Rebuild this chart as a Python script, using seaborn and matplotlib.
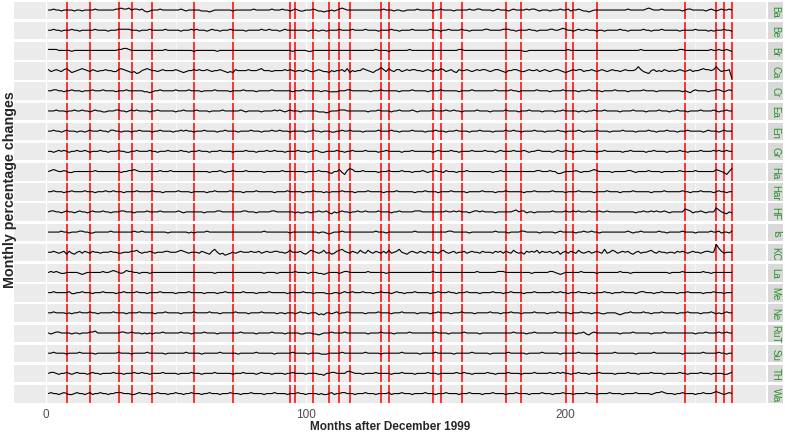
import numpy as np
import pandas as pd
import matplotlib
matplotlib.use("Agg")
import matplotlib.pyplot as plt
import seaborn as sns

# monthly percentage changes, one string per house price series (months 1..264)
ba = """
0 0 1 0 0 -1 0 0 0 0 -1 0 0 -1 0 0 0 0 1 0 0 0 0 0
0 0 1 1 2 1 1 2 0 1 1 0 1 -1 -2 -1 0 0 0 1 0 0 0 0
0 0 0 1 0 -1 0 0 0 0 0 -1 -1 -1 -2 -1 0 0 0 0 0 0 0 -1
0 0 0 0 0 0 0 1 0 0 0 0 0 0 1 0 0 0 1 0 0 -1 0 1
0 -1 -1 0 0 0 1 0 -1 -1 -2 -1 -1 0 -1 0 1 2 1 0 0 0 0 0
0 0 0 0 0 0 0 0 0 1 0 0 0 -1 0 0 -1 -1 0 0 0 0 1 0
0 0 0 0 -1 0 0 1 0 0 0 0 -1 0 0 0 0 0 1 0 0 1 1 0
0 0 0 -1 0 1 0 0 0 -1 0 1 0 0 0 0 1 0 1 1 0 -1 0 0
0 -1 0 0 0 1 0 0 1 -1 0 0 1 0 -1 -1 -2 -1 0 0 0 0 0 0
0 0 0 0 0 0 0 1 0 0 0 0 0 0 1 2 1 0 0 0 1 0 0 0
0 0 0 0 -1 0 1 1 0 0 0 0 0 -1 0 1 0 -1 0 1 0 0 1 0
"""
be = """
0 0 1 0 0 -1 0 0 0 1 0 0 -1 0 0 0 0 0 1 0 0 0 0 -1
0 0 0 1 1 1 1 1 0 0 0 -1 0 0 0 1 0 0 0 0 0 1 0 0
0 0 0 -1 0 0 0 1 0 1 0 0 0 -1 0 1 0 0 -1 0 0 0 1 0
0 0 0 0 -1 0 0 0 0 0 1 0 0 1 0 0 0 -1 0 1 0 0 0 0
0 0 0 0 -1 0 0 0 -1 0 0 -1 0 0 0 0 1 0 0 0 0 1 0 0
0 0 1 0 0 0 0 -1 0 0 0 0 1 0 0 -1 0 0 0 0 1 0 0 0
0 0 0 1 0 0 0 -1 0 0 1 0 0 0 0 1 0 0 -1 0 0 0 0 0
1 1 0 0 0 0 0 1 1 1 0 0 -1 0 0 0 0 1 0 0 -1 0 0 0
0 1 1 0 0 1 2 1 0 0 -1 0 1 0 0 1 0 0 0 -1 0 0 -1 0
0 0 0 0 1 0 0 -1 0 0 0 0 0 1 0 0 -1 0 0 0 1 0 0 0
0 0 0 -1 0 0 0 0 0 1 0 0 0 0 -1 0 -1 0 0 0 1 0 0 -1
"""
br = """
1 1 1 1 0 0 0 0 0 -1 0 0 0 0 0 0 0 0 0 0 0 0 0 0
0 0 0 1 1 2 2 1 0 0 0 0 0 0 0 0 0 0 0 0 0 1 0 0
0 0 0 0 0 0 0 0 -1 0 0 0 0 0 0 0 0 -1 0 0 0 0 0 0
0 0 0 0 0 0 0 0 0 0 0 0 0 0 0 0 0 0 0 0 0 0 -1 0
0 0 0 0 -1 -1 0 0 0 0 0 0 0 0 0 0 0 0 0 0 0 0 0 0
0 0 0 0 0 0 1 0 0 0 0 -1 0 0 0 0 0 0 0 1 0 0 0 0
0 0 0 0 0 0 0 0 0 0 0 0 0 0 1 1 0 0 0 0 0 0 0 0
0 0 0 0 0 0 0 0 0 0 0 0 0 0 0 -1 -1 0 0 0 0 0 0 0
0 0 0 0 0 0 0 0 1 0 0 0 0 0 0 0 0 0 0 0 0 0 0 0
0 0 0 0 0 0 0 0 0 0 0 0 1 0 0 0 0 0 0 0 0 0 0 0
0 0 0 1 1 0 0 0 0 0 0 0 0 0 0 1 0 0 1 0 0 1 0 -1
"""
ca = """
1 -1 0 1 0 -1 1 2 0 -2 -1 0 1 2 1 0 -1 1 0 -1 0 0 1 0
0 -1 -1 1 2 1 0 -1 -2 -1 -3 -2 0 1 2 1 0 0 -1 0 1 0 0 0
0 1 0 -1 -2 -1 0 0 1 0 1 0 0 1 0 -1 0 0 1 0 -1 -2 -1 -2
1 0 0 0 0 1 0 0 0 1 2 0 0 0 -1 0 0 0 0 1 0 1 0 -1
0 0 -1 1 0 -1 -1 0 1 0 -1 -1 -2 0 -1 0 0 1 -1 2 -2 0 -1 0
0 2 1 0 -1 -2 0 1 3 1 -1 2 0 -1 1 1 -1 0 1 0 1 1 0 0
-1 0 1 0 -1 1 0 2 1 -1 0 1 -1 -2 1 0 0 1 0 -1 0 1 0 1
1 0 -1 0 1 1 0 -1 -2 0 0 1 1 0 -1 -1 0 1 0 0 1 -1 0 1
0 -1 0 1 1 0 -1 -2 -1 0 1 0 1 1 -1 0 0 1 0 -1 0 1 0 -1
0 1 0 0 -1 0 1 0 0 0 1 4 1 -1 -2 -3 0 1 -1 0 -1 1 0 -1
0 -1 0 1 0 -1 0 1 -1 0 0 1 2 1 1 0 1 4 1 -1 0 0 1 -8
"""
cr = """
0 0 1 1 0 0 -1 0 0 1 0 0 0 -1 0 0 0 1 0 0 0 1 0 0
0 0 -1 0 0 0 1 0 0 0 0 0 0 -1 -1 -2 -1 0 0 1 0 0 0 0
0 1 0 0 0 0 1 0 0 0 0 -1 0 0 0 0 1 0 0 0 0 0 -1 0
0 0 0 1 0 0 0 0 -1 0 0 0 0 0 1 0 0 0 0 0 0 0 -1 0
0 0 1 0 0 0 0 0 0 -1 0 0 -1 -1 -1 -1 0 0 0 1 1 0 0 0
0 0 0 0 -1 0 0 0 1 0 0 0 0 0 0 -1 0 0 0 0 1 0 0 0
0 0 -1 0 0 0 0 1 0 0 0 0 0 0 -1 0 0 0 0 1 0 0 0 0
0 0 0 0 1 0 0 0 0 0 1 0 0 -1 0 0 0 0 0 0 1 0 0 0
0 -1 0 0 0 0 1 0 0 0 0 0 -1 0 0 0 1 0 0 0 0 -1 0 0
0 0 1 0 0 0 0 -1 0 0 0 0 0 1 0 0 0 0 -1 0 0 0 0 0
0 0 0 0 -1 0 -1 -2 0 1 0 0 0 0 -1 0 0 1 1 0 -1 0 1 0
"""
ea = """
0 0 0 1 0 0 0 -1 0 0 1 0 0 1 0 0 -1 0 1 0 0 -1 -1 0
0 0 1 1 0 0 -1 0 1 0 1 0 0 0 0 -1 0 0 1 0 0 0 0 0
0 -1 0 0 1 0 0 0 0 1 0 0 0 0 -1 0 0 0 0 1 0 0 0 0
0 0 1 0 -1 0 0 0 0 0 -1 0 0 0 0 1 0 1 0 -1 0 1 0 0
0 -1 0 0 0 0 0 0 -1 -1 -1 -2 -1 0 0 0 1 1 1 0 0 0 0 0
0 0 0 -1 0 0 0 1 0 0 0 0 -1 0 0 1 0 0 0 0 1 0 -1 0
0 0 0 0 1 0 0 0 0 1 0 0 1 0 0 -1 0 0 0 0 0 1 0 0
0 0 -1 0 0 0 0 0 1 0 0 0 0 -1 0 0 0 1 0 0 0 0 -1 0
0 0 0 -1 0 0 1 0 0 0 0 0 -1 0 0 -1 0 0 1 0 0 0 1 0
0 0 0 0 -1 0 0 0 0 1 0 0 0 0 -1 0 0 0 0 1 0 0 0 -1
0 0 1 0 0 0 -1 0 0 0 0 1 0 0 0 0 1 0 -1 0 0 1 0 0
"""
en = """
0 0 1 0 0 -1 0 1 0 0 0 -1 0 0 -1 0 1 0 0 0 1 0 0 -1
1 1 0 0 -1 0 0 0 -1 0 0 1 0 0 0 0 -1 0 0 1 0 0 0 0
-1 0 0 1 0 1 0 0 -1 0 0 0 1 0 0 0 0 -1 0 0 1 0 0 0
0 -1 0 0 0 0 1 0 0 0 -1 0 0 0 1 0 0 1 0 0 0 -1 0 0
0 0 0 -1 0 0 1 0 0 -1 0 0 0 -1 -1 0 0 1 0 0 1 0 0 0
0 -1 0 0 0 0 0 1 0 0 0 0 1 0 0 -1 0 0 0 0 1 0 0 0
0 -1 0 0 0 1 0 0 0 -1 0 0 0 1 0 0 0 0 -1 0 0 0 1 0
0 0 0 -1 0 0 0 0 1 0 0 1 0 0 -1 0 0 0 0 1 0 0 0 -1
0 0 0 0 1 0 0 -1 0 0 0 0 1 0 -1 0 0 0 0 1 0 0 0 0
-1 0 0 0 0 1 0 0 0 0 -1 0 0 0 0 1 0 0 -1 0 0 0 1 0
0 0 -1 0 0 0 1 0 0 0 0 0 -1 0 1 0 0 0 -1 0 1 0 0 0
"""
gr = """
0 0 -1 0 1 0 1 0 -1 0 0 1 0 0 1 0 -1 0 0 0 1 0 0 -1
0 0 0 1 0 0 -1 -1 0 0 1 0 0 0 0 1 0 0 -1 0 0 0 1 0
0 0 0 1 0 0 -1 0 0 0 1 0 0 0 -1 0 0 0 1 0 0 0 0 -1
0 0 0 0 1 0 0 0 -1 0 0 0 1 0 0 1 0 0 0 -1 0 0 0 0
1 0 0 0 -1 0 0 1 0 -1 -1 0 0 0 0 1 0 0 -1 0 0 1 0 0
0 0 1 0 0 0 0 -1 0 0 1 0 0 0 0 0 -1 0 0 0 1 0 0 0
0 0 0 0 -1 0 1 0 0 0 0 1 0 0 -1 0 0 0 0 1 0 0 0 0
1 0 0 0 -1 0 1 0 0 0 0 1 0 0 0 1 0 -1 0 0 1 1 0 0
0 0 -1 0 1 0 0 1 0 0 -1 0 0 0 1 0 0 0 0 -1 0 0 1 0
0 0 0 0 0 -1 0 0 1 0 0 0 0 0 -1 0 0 1 0 0 0 0 -1 0
0 0 0 1 0 0 -1 0 0 0 0 1 0 0 0 0 1 0 1 0 0 1 0 0
"""
ha = """
0 1 2 1 0 0 1 0 -1 -1 0 0 0 0 0 0 0 0 1 0 0 0 0 0
0 0 0 0 -1 0 0 1 1 2 1 0 0 0 0 0 0 0 0 1 0 0 0 1
0 0 0 0 0 0 0 0 0 0 0 0 0 0 -1 0 0 0 1 0 -1 0 0 1
0 0 0 0 1 0 0 0 0 0 0 -1 0 0 0 0 0 0 1 0 0 0 0 0
0 0 0 -1 0 0 0 0 1 0 0 0 -1 -2 0 0 2 -1 -3 1 3 2 0 0
0 1 0 0 0 0 0 -1 0 0 0 1 0 0 0 0 1 0 0 0 -1 0 0 0
1 0 -1 0 0 1 0 0 -1 1 0 0 0 -1 0 0 0 1 0 0 0 0 0 0
0 0 0 -1 0 0 1 0 0 0 0 0 0 0 0 0 0 0 0 0 1 1 0 0
0 1 0 0 -2 -2 -1 0 0 0 0 1 0 -1 0 0 0 1 2 1 0 0 0 0
0 -1 0 0 0 0 0 1 1 0 -1 0 0 0 0 1 0 0 0 0 -1 0 0 0
0 0 0 1 0 0 0 0 0 1 0 0 0 0 0 0 0 2 1 0 -1 -3 0 3
"""
har = """
0 0 1 0 0 0 -1 0 0 1 0 0 0 0 1 0 0 0 -1 0 0 0 1 0
0 1 0 0 0 -1 0 0 0 0 1 0 0 0 0 0 1 0 0 0 -1 0 0 0
0 0 1 0 0 0 0 -1 0 0 0 0 0 -1 0 0 1 0 0 0 0 0 1 0
0 0 0 -1 0 0 0 0 1 0 0 0 0 0 0 -1 0 0 0 0 1 0 0 0
0 0 -1 0 0 0 1 0 0 0 -1 0 -1 0 0 0 0 1 0 0 0 0 -1 0
0 0 0 1 0 0 0 0 0 -1 0 0 0 0 1 0 0 0 0 0 0 -1 0 0
0 1 0 0 0 0 -1 0 0 0 0 1 0 0 0 0 0 -1 0 0 0 0 0 1
0 0 0 0 -1 0 0 0 1 0 0 0 0 0 0 -1 0 0 0 1 0 0 0 0
0 0 1 0 0 0 0 -1 0 0 0 0 1 0 0 0 0 0 -1 0 0 0 0 1
0 0 0 0 -1 0 0 0 0 1 0 0 0 0 0 0 -1 0 0 0 0 1 0 0
0 0 0 0 1 0 0 -1 0 0 0 1 0 0 0 0 -1 0 1 0 0 -1 0 0
"""
hf = """
0 1 1 0 0 -1 0 1 0 0 -1 0 1 0 0 -1 0 1 0 0 0 1 0 0
-1 0 0 0 1 1 0 0 0 -1 0 0 0 0 1 0 0 0 0 1 0 0 0 0
0 0 1 0 -1 0 0 0 0 0 0 0 -1 0 0 0 0 1 1 0 0 0 0 0
0 0 0 1 1 0 0 0 -1 0 0 0 0 0 1 1 0 0 0 0 0 0 0 -1
0 -1 -1 0 0 -1 0 0 1 0 0 1 -1 -2 0 -1 0 1 0 0 -1 0 0 1
0 0 1 0 0 0 0 1 0 0 0 0 -1 0 0 1 0 0 0 0 0 1 1 1
0 0 0 0 0 0 0 0 0 1 0 0 1 0 1 0 0 0 -1 0 1 1 0 1
0 0 0 0 -1 0 0 0 0 0 0 1 2 0 1 1 -1 0 0 -1 0 0 0 0
0 0 1 0 0 0 0 1 0 0 1 0 1 0 0 0 1 0 0 0 1 0 0 1
0 0 0 0 0 0 0 0 0 0 -1 0 0 1 0 0 1 0 1 0 0 1 0 -1
0 0 0 0 0 3 2 1 -1 0 0 1 0 -1 0 0 0 4 2 0 -1 -2 0 -1
"""
is_ = """
0 0 0 0 0 1 0 0 -1 0 0 0 1 1 0 0 -1 -1 0 0 0 0 0 0
1 0 0 0 0 0 0 0 0 1 0 0 1 0 0 0 0 0 0 0 0 0 -1 0
0 0 0 0 0 0 -1 0 -1 0 0 0 0 1 0 0 0 0 0 0 0 0 0 0
0 0 0 0 0 0 0 0 0 0 0 1 0 0 0 0 0 0 0 0 0 -1 0 0
0 0 0 0 0 0 0 0 -1 0 0 -1 -2 -1 0 0 0 1 0 0 0 0 0 0
0 0 0 0 0 0 1 0 0 0 -1 0 0 0 0 0 0 0 0 0 0 1 0 0
0 0 0 0 0 0 0 0 0 0 1 1 0 0 0 0 0 0 -1 0 0 0 0 0
0 0 0 0 1 0 0 0 0 -1 0 0 0 0 1 1 0 0 0 0 0 -1 0 0
0 0 0 -1 0 1 0 0 0 0 0 -1 0 0 1 0 0 1 0 0 -1 0 0 0
0 0 0 0 0 0 0 1 0 -1 0 0 1 0 0 0 0 0 0 1 0 0 -1 0
0 0 0 0 1 0 0 0 0 -1 0 0 0 0 0 1 0 0 1 -1 0 0 -1 1
"""
kc = """
0 0 1 0 -1 0 1 -2 1 -1 -2 0 1 -1 1 0 -1 1 0 0 -1 0 0 0
1 0 0 -1 -1 0 0 0 1 1 2 0 -1 0 0 1 0 -1 0 0 0 1 1 0
0 0 1 2 1 0 -1 0 0 0 -1 1 0 -1 -2 1 3 0 -2 -1 -3 -2 -1 0
-1 0 1 0 0 0 1 0 0 1 -1 0 1 0 0 1 1 0 0 -1 0 2 0 0
0 1 -1 -2 0 2 1 0 -1 0 2 -1 0 -2 -1 1 2 3 1 0 -1 1 0 -1
2 0 -1 2 0 -1 1 0 -1 1 -1 2 -1 0 1 3 0 -1 -2 0 1 0 -1 1
0 -1 1 0 0 0 -1 1 2 0 -1 0 1 -1 0 0 1 -1 0 1 0 0 -1 1
0 0 0 -1 1 0 1 -1 1 0 -1 2 0 -1 0 -2 1 0 1 0 2 -1 1 0
0 1 -1 0 1 -2 0 1 -1 1 0 -1 2 0 -1 0 1 -1 0 1 0 -1 3 -1
0 2 1 -1 0 1 0 1 -1 -2 0 1 -1 0 0 1 2 0 -1 1 0 0 -1 0
0 -1 1 0 1 0 -1 0 1 0 0 -1 0 1 1 0 0 8 4 1 -1 0 0 0
"""
la = """
0 1 0 1 0 -1 -1 0 0 0 0 0 -1 -2 -1 0 0 0 0 0 0 1 0 0
1 2 1 0 -1 0 2 1 1 0 0 -1 0 0 0 -1 0 0 0 0 0 0 0 0
0 0 0 0 0 0 0 0 0 0 0 0 0 0 0 0 -1 0 0 0 0 0 0 0
0 0 0 0 0 0 0 0 0 0 0 -1 0 0 0 0 -1 0 0 0 0 0 0 1
0 0 0 0 -1 0 0 0 -1 -1 -2 -1 0 0 0 0 -1 0 1 1 0 0 0 0
0 0 0 1 0 0 0 0 0 0 -1 0 0 0 0 0 0 0 0 0 0 0 0 0
0 0 0 0 1 0 0 0 0 0 0 0 0 0 0 0 0 0 0 0 0 1 0 0
0 0 0 0 0 1 1 1 0 0 0 0 0 0 0 0 0 0 -1 0 0 0 0 0
0 1 1 0 -1 -2 -1 0 0 0 0 0 0 1 0 0 0 0 0 -1 0 0 0 0
0 0 0 0 1 0 0 0 -1 0 0 0 0 0 0 0 0 0 0 0 0 0 0 -1
0 0 0 0 1 0 0 0 0 0 0 0 1 0 0 -1 0 0 0 0 0 0 0 0
"""
me = """
0 0 1 0 0 0 0 0 1 -1 -1 0 0 1 0 0 0 -1 0 0 0 1 0 0
0 0 -1 0 0 1 0 0 0 0 1 0 0 0 -1 0 0 0 0 1 0 0 0 0
0 -1 0 0 0 0 1 0 0 0 0 0 -1 0 0 0 0 -1 0 0 1 0 0 0
0 0 0 1 0 0 0 0 -1 0 0 0 0 1 0 0 0 0 0 0 -1 0 0 0
0 0 1 0 0 0 -1 0 0 0 0 -1 -1 -1 0 0 -1 0 1 0 0 1 0 0
0 1 0 0 0 -1 0 0 1 0 0 0 -1 0 1 0 0 -1 0 0 0 1 0 0
0 0 0 -1 0 0 1 0 0 0 1 0 0 -1 0 0 0 1 0 0 0 0 -1 0
0 0 0 1 0 0 0 -1 0 0 1 0 0 0 0 -1 0 0 0 1 0 0 0 0
0 0 1 0 0 1 0 0 -1 0 0 0 1 0 0 0 -1 0 -1 0 0 0 1 0
0 -1 0 0 0 1 0 0 0 0 -1 0 1 1 0 0 0 -1 0 0 1 0 0 0
0 0 -1 0 0 0 1 0 0 0 0 0 -1 0 0 0 1 0 0 0 -1 0 0 0
"""
ne = """
0 0 1 0 0 0 0 -1 0 -1 0 0 1 0 0 0 1 0 0 -1 0 0 0 0
0 1 0 0 0 0 -1 0 0 0 0 1 0 0 0 0 0 -1 0 0 0 1 0 0
0 0 0 -1 0 0 0 0 1 0 0 0 0 0 1 0 0 0 -1 0 0 0 0 0
1 0 0 0 0 -1 0 0 0 0 1 0 0 0 0 0 -1 0 0 -1 0 0 0 -1
0 1 0 0 -1 0 0 0 -2 -1 -2 0 0 -1 0 1 -1 0 0 1 0 0 0 0
0 0 -1 0 0 0 0 1 0 0 0 0 -1 0 0 0 1 0 0 0 0 0 -1 0
0 0 0 -1 0 0 1 0 0 0 0 -1 0 0 0 1 0 0 0 0 -1 0 0 0
0 0 1 0 0 0 -1 0 0 0 1 0 0 0 -1 0 0 0 0 1 0 0 0 0
-1 0 0 0 1 0 0 0 0 -1 0 0 0 1 0 0 0 -1 0 0 0 -1 -1 0
0 0 0 -1 -2 -1 0 0 1 0 0 0 0 1 0 0 -1 0 0 0 1 0 0 0
0 0 -1 0 0 0 1 0 0 0 0 -1 0 0 0 1 0 -1 0 -1 0 1 0 0
"""
rut = """
0 -1 0 1 1 0 0 0 0 -1 0 0 -1 0 0 0 1 1 2 0 0 0 0 0
0 0 0 0 1 1 0 0 1 0 0 0 -1 0 -1 0 -1 0 0 0 1 0 0 0
0 0 0 1 0 0 0 -1 0 0 0 0 1 0 0 0 0 -1 0 0 0 0 0 0
0 0 1 0 0 0 0 0 -1 0 0 0 0 0 1 0 0 0 0 -1 0 0 0 0
0 -1 -1 0 0 0 -1 -1 -2 -1 0 0 0 1 0 0 0 0 1 0 0 0 0 0
0 0 0 -1 0 0 0 0 1 0 0 0 0 -1 0 0 0 0 0 1 0 0 0 0
0 0 0 0 0 1 0 0 0 0 -1 0 0 0 0 0 1 0 0 0 0 0 -1 0
0 0 0 0 0 0 0 0 0 0 0 1 0 0 0 0 -1 0 0 1 0 0 0 0
0 0 0 1 0 0 0 0 0 0 0 -1 0 0 1 -1 -2 0 1 0 0 0 0 0
0 0 0 0 -1 0 0 0 0 1 0 0 0 0 0 0 -1 0 0 0 0 1 0 0
0 0 0 0 0 0 0 0 0 -1 0 0 0 1 0 0 0 0 1 0 0 1 0 0
"""
su = """
0 0 1 0 0 0 0 -1 0 0 0 0 1 0 0 0 0 0 -1 0 0 0 0 0
0 0 0 1 0 0 0 0 -1 0 0 0 0 0 1 0 0 0 0 0 0 -1 0 0
0 0 0 0 0 1 0 0 0 0 0 -1 0 0 0 0 0 0 1 0 0 0 0 0
0 -1 0 0 0 0 0 0 1 0 0 0 0 0 0 -1 0 0 0 0 0 0 1 0
0 0 0 0 -1 0 0 0 0 -1 -1 -1 0 0 0 0 0 1 0 0 0 0 0 0
0 0 1 0 0 0 0 0 -1 0 0 0 0 0 0 0 1 0 0 0 0 0 0 -1
0 0 0 0 0 1 0 0 0 0 0 0 -1 0 0 0 0 0 0 1 0 0 0 0
0 0 -1 0 0 0 0 0 0 1 0 0 0 0 0 0 -1 0 0 0 0 0 1 0
0 0 0 0 0 -1 0 0 0 0 0 0 1 0 0 0 0 0 0 -1 0 0 0 0
0 0 1 0 0 0 0 0 0 0 -1 0 0 0 0 0 0 1 0 0 0 0 0 0
0 0 0 0 -1 0 0 0 0 0 0 0 1 0 0 0 0 0 1 0 0 -1 0 0
"""
th = """
0 1 1 0 -1 0 0 1 0 -1 0 1 0 0 0 -1 0 1 0 0 -1 0 0 0
0 1 0 0 0 -1 0 0 0 1 0 0 1 0 0 -1 0 0 0 0 1 0 0 0
0 0 -1 0 0 0 0 1 0 0 0 -1 0 0 0 0 1 0 0 0 0 0 0 -1
0 0 0 1 0 0 0 0 -1 0 1 0 0 0 -1 0 0 0 0 -1 0 0 1 0
0 0 0 -1 0 0 0 0 -1 -1 -2 0 0 1 1 0 0 0 0 2 2 1 0 0
0 -1 0 0 0 0 1 0 0 0 0 0 -1 0 0 0 1 0 0 0 0 -1 0 0
0 0 1 0 0 0 -1 0 0 0 0 0 0 1 0 0 1 0 0 -1 0 0 0 0
0 1 0 0 -1 0 0 0 0 1 0 0 0 0 -1 0 0 0 0 1 0 0 0 0
0 1 0 0 1 0 1 0 0 -1 0 0 1 0 0 0 -1 0 0 0 1 0 0 0
0 0 -1 0 0 0 0 1 0 0 0 -1 0 0 0 0 1 0 0 0 0 -1 0 0
0 0 0 1 0 0 -1 0 0 0 0 1 0 0 0 -1 0 0 0 0 -1 -1 0 1
"""
wa = """
0 1 0 0 -1 0 1 0 -1 -1 0 1 0 0 -1 0 1 -1 0 0 1 0 0 -1
0 0 1 1 1 0 0 0 -1 -1 0 1 0 0 0 -1 0 0 1 0 0 0 -1 0
0 1 0 0 -1 0 0 1 0 0 0 -1 0 0 1 0 0 0 -1 0 0 0 1 0
0 0 -1 0 0 0 1 0 0 0 0 -1 0 0 0 1 0 0 0 0 -1 0 0 0
1 0 0 -1 0 0 0 0 -1 0 -1 -1 0 1 -1 0 0 1 1 0 0 0 -1 0
0 0 1 0 0 0 -1 0 0 0 0 1 -1 0 0 0 1 0 0 0 -1 0 0 0
0 1 0 0 0 -1 0 0 0 1 0 0 0 0 -1 0 0 0 1 0 0 0 0 -1
0 0 0 1 0 0 0 0 -1 0 0 0 1 0 0 0 0 -1 0 0 0 0 1 0
0 0 -1 0 0 0 1 0 0 0 -1 0 0 0 0 1 0 0 0 -1 0 0 0 0
1 0 0 0 0 -1 0 0 0 0 1 0 0 0 0 0 -1 0 1 1 2 1 0 0
0 -1 0 0 1 0 0 0 0 -1 0 0 1 0 0 0 1 2 1 0 -1 0 1 0
"""

etiquetas = ['Ba', 'Be', 'Br', 'Ca', 'Cr', 'Ea', 'En', 'Gr', 'Ha', 'Har',
             'HF', 'Is', 'KC', 'La', 'Me', 'Ne', 'RuT', 'Su', 'TH', 'Wa']
series = [ba, be, br, ca, cr, ea, en, gr, ha, har,
          hf, is_, kc, la, me, ne, rut, su, th, wa]

# months with events (red vertical lines)
eventos = [8, 17, 28, 33, 41, 57, 72, 94, 96, 103, 109, 113, 117, 129, 132,
           149, 152, 160, 177, 183, 200, 203, 212, 246, 258, 261, 264]

filas = []
for etiqueta, texto in zip(etiquetas, series):
    valores = [float(v) for v in texto.split()]
    for mes, v in enumerate(valores, start=1):
        filas.append({'serie': etiqueta, 'mes': mes, 'cambio': v})
datos = pd.DataFrame(filas)

sns.set_theme(style='darkgrid')
plt.rcParams['font.family'] = ['Liberation Sans', 'DejaVu Sans']

fig, ejes = plt.subplots(len(etiquetas), 1, figsize=(7.85, 4.35), dpi=100,
                         sharex=True, sharey=True)
plt.subplots_adjust(left=0.018, right=0.976, top=0.994, bottom=0.072, hspace=0.15)

for ax, etiqueta in zip(ejes, etiquetas):
    sub = datos[datos['serie'] == etiqueta]
    ax.set_facecolor('#ebebeb')
    ax.set_xticks([0, 100, 200])
    ax.set_xticks([50, 150, 250], minor=True)
    ax.grid(which='major', axis='x', color='white', lw=0.9)
    ax.grid(which='minor', axis='x', color='white', lw=0.45)
    ax.grid(which='both', axis='y', visible=False)
    for e in eventos:
        ax.axvline(e, color='red', lw=1.1, zorder=2)
    sns.lineplot(data=sub, x='mes', y='cambio', ax=ax, color='black', lw=0.8,
                 zorder=3)
    ax.set_xlim(-12.2, 277.2)
    ax.set_ylim(-9.3, 8.6)
    ax.set_yticks([])
    ax.set_xlabel('')
    ax.set_ylabel('')
    for s in ax.spines.values():
        s.set_visible(False)
    ax.tick_params(axis='x', which='both', length=0, labelbottom=False)

    # strip on the right
    tira = ax.inset_axes([1.0027, 0, 0.0199, 1])
    tira.set_facecolor('#d9d9d9')
    tira.set_xticks([])
    tira.set_yticks([])
    for s in tira.spines.values():
        s.set_visible(False)
    tira.text(0.5, 0.5, etiqueta, rotation=-90, ha='center', va='center',
              fontsize=7, color='#2a8f2a', transform=tira.transAxes)

abajo = ejes[-1]
abajo.tick_params(axis='x', which='major', length=3, width=0.8, color='#333333',
                  labelbottom=True, labelsize=8.5, labelcolor='#4d4d4d', pad=1)

fig.text(0.497, 0.004, 'Months after December 1999', ha='center', va='bottom',
         fontsize=8.5, fontweight='bold')
fig.text(0.004, 0.563, 'Monthly percentage changes', rotation=90, ha='left',
         va='center', fontsize=10.3, fontweight='bold')

plt.savefig('out.png', dpi=100)
plt.close()
